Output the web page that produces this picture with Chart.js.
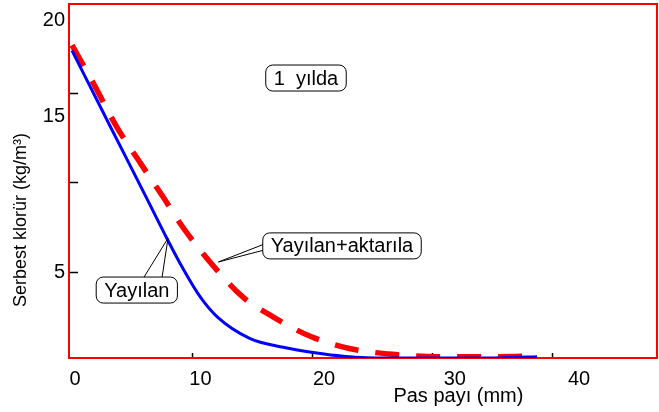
<!DOCTYPE html>
<html>
<head>
<meta charset="utf-8">
<script src="https://cdn.jsdelivr.net/npm/chart.js@4.4.1/dist/chart.umd.min.js"></script>
<style>
  body { margin: 0; background: #fff; }
  canvas { display: block; }
</style>
</head>
<body>
<canvas id="chlorideChart" width="659" height="412"></canvas>
<script>
// values
const spreadX = [0, 3, 6.25, 7.9, 9.25, 10.7, 12.1, 14.8, 17.6, 20.4, 22.6, 24.6, 28, 32, 36, 38.75];
const spreadY = [17.4, 13.4, 9.1, 6.9, 5.2, 3.6, 2.5, 1.3, 0.8, 0.48, 0.3, 0.22, 0.2, 0.2, 0.22, 0.27];

const spreadMovedX = [0, 1.75, 3.75, 5.7, 7.5, 9.25, 12.1, 14.25, 16.75, 19.9, 23.2, 27, 30.5, 34, 38.4];
const spreadMovedY = [17.7, 15.6, 13.1, 11.1, 9.3, 7.5, 5.1, 3.6, 2.5, 1.4, 0.72, 0.39, 0.27, 0.27, 0.3];

// tick marks and (slightly offset) tick labels as printed in the figure
const xTickMarks = [10, 20, 30, 40];
const xLabelValues = [0.25, 10.7, 21, 31.9, 42.25];
const xLabelText = ["0", "10", "20", "30", "40"];
const yTickMarks = [5, 10, 15];
const yLabelValues = [5, 13.7, 19.1];
const yLabelText = ["5", "15", "20"];

const toPoints = (xs, ys) => xs.map((x, i) => ({ x: x, y: ys[i] }));

// callouts: anchor in data units, wedge target on the curve
const notes = [
    { text: "1  yılda", x: 19.5, y: 15.86 },
    { text: "Yayılan+aktarıla", x: 22.5, y: 6.47, toX: 12.2, toY: 5.57, side: "left" },
    { text: "Yayılan", x: 5.4, y: 4.0, toX: 8.0, toY: 6.9, side: "top" }
];

const FONT = "'Liberation Sans', Arial, sans-serif";

function labelFor(value, values, texts) {
    const i = values.findIndex(v => Math.abs(v - value) < 1e-6);
    return i >= 0 ? texts[i] : "";
}

function mergedTicks(a, b) {
    return [...new Set([...a, ...b])].sort((p, q) => p - q).map(v => ({ value: v }));
}

const overlay = {
    id: "overlay",
    beforeDatasetsDraw(chart) {
        const { ctx, chartArea: a } = chart;
        ctx.save();
        ctx.strokeStyle = "#ff0000";
        ctx.lineWidth = 2;
        ctx.strokeRect(a.left, a.top, a.right - a.left, a.bottom - a.top);
        ctx.restore();
    },
    afterDraw(chart) {
        const { ctx, scales: { x, y } } = chart;
        ctx.save();
        ctx.fillStyle = "#000";

        // axis titles
        ctx.font = "20px " + FONT;
        ctx.textAlign = "center";
        ctx.textBaseline = "middle";
        ctx.fillText("Pas payı (mm)", x.getPixelForValue(32.2), 396);

        ctx.save();
        ctx.translate(21, 220);
        ctx.rotate(-Math.PI / 2);
        ctx.font = "18px " + FONT;
        ctx.fillText("Serbest klorür (kg/m³)", 0, 0);
        ctx.restore();

        // callouts
        ctx.font = "20px " + FONT;
        ctx.lineWidth = 1;
        ctx.strokeStyle = "#000";
        notes.forEach(n => {
            const cx = x.getPixelForValue(n.x);
            const cy = y.getPixelForValue(n.y);
            const w = ctx.measureText(n.text).width + 16;
            const h = 26;
            const left = cx - w / 2, top = cy - h / 2;
            if (n.side) {
                const tx = x.getPixelForValue(n.toX);
                const ty = y.getPixelForValue(n.toY);
                ctx.beginPath();
                if (n.side === "left") {
                    ctx.moveTo(left + 2, cy - 2); ctx.lineTo(tx, ty);
                    ctx.moveTo(left + 2, cy + 4); ctx.lineTo(tx, ty);
                } else {
                    ctx.moveTo(cx + 6, top + 2); ctx.lineTo(tx, ty);
                    ctx.moveTo(cx + 25, top + 2); ctx.lineTo(tx, ty);
                }
                ctx.stroke();
            }
            ctx.beginPath();
            ctx.roundRect(left, top, w, h, 7);
            ctx.fillStyle = "#fff";
            ctx.fill();
            ctx.stroke();
            ctx.fillStyle = "#000";
            ctx.fillText(n.text, cx, cy + 1);
        });
        ctx.restore();
    }
};

const chart_context = document.getElementById("chlorideChart").getContext("2d");
new Chart(chart_context, {
    type: "line",
    data: {
        datasets: [
            {
                label: "Yayılan",
                data: toPoints(spreadX, spreadY),
                borderColor: "#0000ff",
                borderWidth: 3,
                pointRadius: 0,
                cubicInterpolationMode: "monotone",
                fill: false
            },
            {
                label: "Yayılan+aktarıla",
                data: toPoints(spreadMovedX, spreadMovedY),
                borderColor: "#ff0000",
                borderWidth: 5.5,
                borderDash: [24, 17],
                pointRadius: 0,
                cubicInterpolationMode: "monotone",
                fill: false
            }
        ]
    },
    options: {
        responsive: false,
        animation: false,
        layout: { padding: { left: 0, top: 4, right: 2, bottom: 0 } },
        plugins: {
            legend: { display: false },
            tooltip: { enabled: false }
        },
        scales: {
            x: {
                type: "linear",
                min: -0.25,
                max: 48.75,
                afterBuildTicks: s => { s.ticks = mergedTicks(xTickMarks, xLabelValues); },
                afterFit: s => { s.height = 54; s.paddingLeft = 0; s.paddingRight = 0; },
                border: { display: false },
                grid: {
                    drawOnChartArea: false,
                    tickLength: -5,
                    tickWidth: 1.5,
                    tickColor: c => xTickMarks.includes(c.tick.value) ? "#000" : "rgba(0,0,0,0)"
                },
                ticks: {
                    autoSkip: false,
                    maxRotation: 0,
                    padding: 14,
                    color: "#000",
                    font: { family: FONT, size: 20 },
                    callback: v => labelFor(v, xLabelValues, xLabelText)
                }
            },
            y: {
                type: "linear",
                min: 0.2,
                max: 20,
                afterBuildTicks: s => { s.ticks = mergedTicks(yTickMarks, yLabelValues); },
                afterFit: s => { s.width = 69; s.paddingTop = 0; s.paddingBottom = 0; },
                border: { display: false },
                grid: {
                    drawOnChartArea: false,
                    tickLength: -9,
                    tickWidth: 1.5,
                    tickColor: c => yTickMarks.includes(c.tick.value) ? "#000" : "rgba(0,0,0,0)"
                },
                ticks: {
                    autoSkip: false,
                    padding: 13,
                    color: "#000",
                    font: { family: FONT, size: 20 },
                    callback: v => labelFor(v, yLabelValues, yLabelText)
                }
            }
        }
    },
    plugins: [overlay]
});
</script>
</body>
</html>
